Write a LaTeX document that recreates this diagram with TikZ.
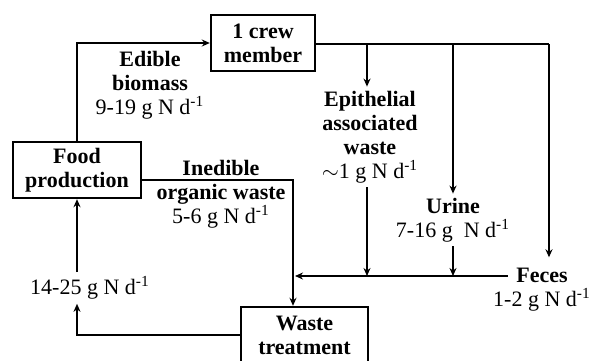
\documentclass[tikz,border=0pt]{standalone}
\usepackage{fontspec}
\setmainfont{Liberation Serif}
\usetikzlibrary{arrows.meta}
\tikzset{flowbox/.style={draw, line width=1.2pt, minimum height=28pt, inner sep=2pt, align=center, font=\fontsize{11}{12}\selectfont\bfseries}}
\tikzset{flowlabel/.style={align=center, inner sep=2pt, font=\fontsize{11}{12}\selectfont}}
\tikzset{flowarrow/.style={line width=1pt, -{Stealth[length=4pt,width=3.5pt]}}}
\tikzset{flowline/.style={line width=1pt}}

\begin{document}
\begin{tikzpicture}[x=0.5pt, y=-0.5pt]
\clip (0,0) rectangle (590,360);
\useasboundingbox (0,0) rectangle (590,360);

\node[flowbox, minimum width=52pt] (crew) at (263, 43) {1 crew\\member};
\node[flowbox, minimum width=64pt] (food) at (77, 170) {Food\\production};
\node[flowbox, minimum width=63.5pt] (waste) at (304.5, 335) {Waste\\treatment};

\node[flowlabel] (edible) at (150, 85) {\textbf{Edible}\\\textbf{biomass}\\9-19 g N d\textsuperscript{-1}};
\node[flowlabel] (inedible) at (221, 194) {\textbf{Inedible}\\\textbf{organic waste}\\5-6 g N d\textsuperscript{-1}};
\node[flowlabel] (epith) at (370, 137) {\textbf{Epithelial}\\\textbf{associated}\\\textbf{waste}\\$\sim$1 g N d\textsuperscript{-1}};
\node[flowlabel] (urine) at (453, 220) {\textbf{Urine}\\7-16 g\ \ N d\textsuperscript{-1}};
\node[flowlabel, inner sep=1pt, font=\fontsize{11}{12}\selectfont\bfseries] (feces) at (542, 275) {Feces};
\node[flowlabel, inner sep=1pt] (fecesval) at (542, 300) {1-2 g N d\textsuperscript{-1}};
\node[flowlabel] (ret) at (90, 288) {14-25 g N d\textsuperscript{-1}};

\coordinate (b1) at (367, 44);
\coordinate (b2) at (453, 44);
\coordinate (b3) at (549, 44);
\coordinate (j) at (293, 276);

\draw[flowarrow] (food.north) |- (crew.west);
\draw[flowline] (crew.east |- b1) -- (b3);
\draw[flowarrow] (b1) -- (b1 |- epith.north);
\draw[flowarrow] (b2) -- (urine.north);
\draw[flowarrow] (b3) -- ([yshift=4pt]b3 |- feces.north);

\draw[flowarrow] (epith.south -| b1) -- (b1 |- j);
\draw[flowarrow] (urine.south) -- (urine.south |- j);
\draw[flowarrow] ([xshift=-3pt]feces.west |- j) -- ([xshift=1pt]j);

\draw[flowarrow] ([yshift=-5pt]food.east) -| (j |- waste.north);
\draw[flowarrow] (waste.west) -| (ret.south -| food.south);
\draw[flowarrow] (ret.north -| food.south) -- (food.south);

\end{tikzpicture}
\end{document}
